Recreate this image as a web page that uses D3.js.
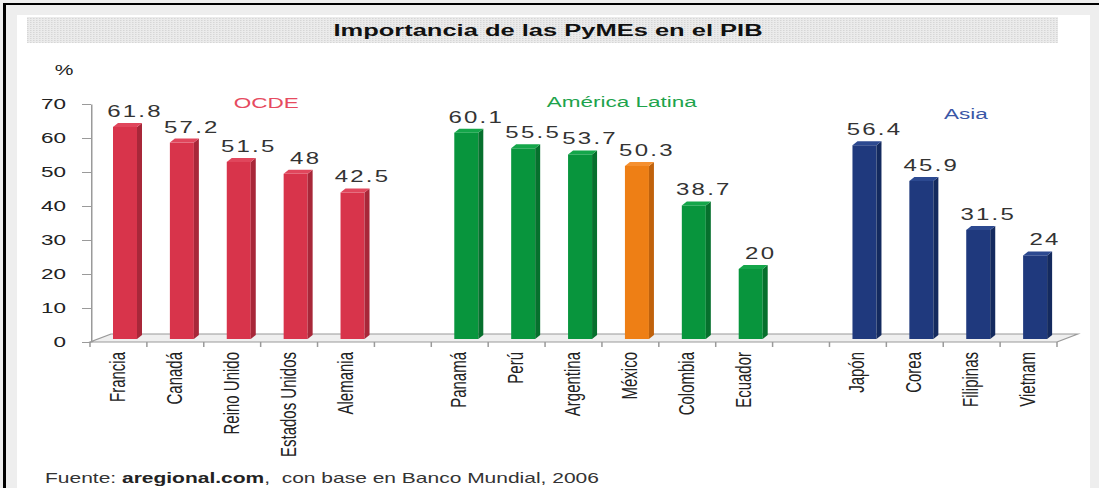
<!DOCTYPE html>
<html lang="es">
<head>
  <meta charset="UTF-8">
  <title>Importancia de las PyMEs en el PIB</title>
  <script src="https://d3js.org/d3.v7.min.js"></script>
  <style>
    body {
      margin: 0;
      background: #fff;
      font-family: "Liberation Sans", Arial, sans-serif;
    }
    svg { display: block; }
    .cat { font-size: 15px; fill: #222; }
    .val { font-size: 16px; fill: #333; letter-spacing: 1.5px; }
    .grp { font-size: 15px; }
  </style>
</head>
<body>
  <svg width="1099" height="488"></svg>

  <script>
    // data
    const ocdeCountries  = ["Francia", "Canadá", "Reino Unido", "Estados Unidos", "Alemania"];
    const ocdeValues     = [61.8, 57.2, 51.5, 48, 42.5];
    const latamCountries = ["Panamá", "Perú", "Argentina", "México", "Colombia", "Ecuador"];
    const latamValues    = [60.1, 55.5, 53.7, 50.3, 38.7, 20];
    const asiaCountries  = ["Japón", "Corea", "Filipinas", "Vietnam"];
    const asiaValues     = [56.4, 45.9, 31.5, 24];
    const groupNames     = ["OCDE", "América Latina", "Asia"];
    const highlighted    = ["México"];
    const yTicks         = [0, 10, 20, 30, 40, 50, 60, 70];

    const groupColors = {
      "OCDE":           {front: "#d8344b", side: "#a82739", top: "#e0465c", label: "#e64a60"},
      "América Latina": {front: "#08953d", side: "#06702d", top: "#14a64a", label: "#1ea34c"},
      "Asia":           {front: "#1f397d", side: "#142a5e", top: "#2c4990", label: "#3a57a6"}
    };
    const highlightColor = {front: "#ee7f15", side: "#c0620c", top: "#f59030"};

    // the original picture is stretched sideways, so everything is drawn
    // in a narrower space and scaled by SX
    const SX = 1.5;
    const px = v => v / SX;

    const groups = [
      {name: groupNames[0], countries: ocdeCountries,  values: ocdeValues,  labelAt: 3.1,  labelY: 108},
      {name: groupNames[1], countries: latamCountries, values: latamValues, labelAt: 9.35, labelY: 107},
      {name: groupNames[2], countries: asiaCountries,  values: asiaValues,  labelAt: 15.4, labelY: 119}
    ];

    const rows = [];
    const slots = [];
    groups.forEach((g, gi) => {
      if (gi > 0) slots.push("_gap" + gi);
      g.countries.forEach((c, i) => {
        slots.push(c);
        rows.push({country: c, value: g.values[i], group: g.name});
      });
    });

    const svg = d3.select("svg");

    // frame
    svg.append("rect").attr("x", 0).attr("y", 0).attr("width", 1099).attr("height", 488).attr("fill", "#eeeeee");
    svg.append("rect").attr("x", 17).attr("y", 15).attr("width", 1073).attr("height", 473).attr("fill", "#fff");
    svg.append("rect").attr("x", 3).attr("y", 3).attr("width", 1096).attr("height", 2).attr("fill", "#000");
    svg.append("rect").attr("x", 3).attr("y", 3).attr("width", 3).attr("height", 485).attr("fill", "#000");

    const defs = svg.append("defs");
    const pat = defs.append("pattern").attr("id", "dots")
      .attr("width", 2).attr("height", 2).attr("patternUnits", "userSpaceOnUse");
    pat.append("rect").attr("width", 2).attr("height", 2).attr("fill", "#ebebeb");
    pat.append("rect").attr("width", 1).attr("height", 1).attr("fill", "#d6d6d6");

    const g = svg.append("g").attr("transform", `scale(${SX},1)`);

    // title bar
    g.append("rect")
      .attr("x", px(27)).attr("y", 17)
      .attr("width", px(1031)).attr("height", 26)
      .attr("fill", "url(#dots)");
    g.append("text")
      .attr("x", px(548)).attr("y", 36)
      .attr("text-anchor", "middle")
      .attr("font-size", 17).attr("font-weight", "bold").attr("fill", "#111")
      .text("Importancia de las PyMEs en el PIB");

    const x = d3.scaleBand().domain(slots).range([px(90), px(1057)]);
    const y = d3.scaleLinear().domain([0, 70]).range([342, 104]);

    // floor
    const depthX = px(21), depthY = 8;
    const x0 = x.range()[0], x1 = x.range()[1];
    g.append("path")
      .attr("d", `M${x0},${y(0)}L${x0 + depthX},${y(0) - depthY}L${x1 + depthX},${y(0) - depthY}L${x1},${y(0)}Z`)
      .attr("fill", "#efefef").attr("stroke", "#9a9a9a").attr("stroke-width", 1);

    // slot ticks under the floor
    const bounds = slots.map(s => x(s)).concat([x1]);
    g.selectAll("line.xt").data(bounds).join("line")
      .attr("class", "xt")
      .attr("x1", d => d).attr("x2", d => d)
      .attr("y1", y(0)).attr("y2", y(0) + 5)
      .attr("stroke", "#9a9a9a");

    // y axis
    const yAxis = g.append("g")
      .attr("transform", `translate(${px(91)},0)`)
      .call(d3.axisLeft(y).tickValues(yTicks).tickSize(px(9)).tickSizeOuter(0).tickPadding(px(16)));
    yAxis.select(".domain").attr("stroke", "#9a9a9a");
    yAxis.selectAll(".tick line").attr("stroke", "#9a9a9a");
    yAxis.selectAll(".tick text")
      .attr("font-family", "Liberation Sans, Arial, sans-serif")
      .attr("font-size", 15).attr("fill", "#222");

    g.append("text")
      .attr("x", px(64)).attr("y", 75)
      .attr("text-anchor", "middle")
      .attr("font-size", 14).attr("fill", "#222")
      .text("%");

    // bars
    const faceW = px(24), sideW = px(5), topDy = 4;
    const colorsOf = d => highlighted.includes(d.country) ? highlightColor : groupColors[d.group];

    const bar = g.selectAll("g.bar").data(rows).join("g").attr("class", "bar");
    bar.each(function(d) {
      const b = d3.select(this);
      const left = x(d.country) + px(23);
      const top = y(d.value) - 5;
      const bottom = y(0) - 3;
      const c = colorsOf(d);
      b.append("rect")
        .attr("x", left).attr("y", top)
        .attr("width", faceW).attr("height", bottom - top)
        .attr("fill", c.front);
      b.append("path")
        .attr("d", `M${left + faceW},${top}L${left + faceW + sideW},${top - topDy}L${left + faceW + sideW},${bottom - topDy}L${left + faceW},${bottom}Z`)
        .attr("fill", c.side);
      b.append("path")
        .attr("d", `M${left},${top}L${left + sideW},${top - topDy}L${left + faceW + sideW},${top - topDy}L${left + faceW},${top}Z`)
        .attr("fill", c.top);
      b.append("text")
        .attr("class", "val")
        .attr("x", left + faceW / 2 + px(10))
        .attr("y", top - 10)
        .attr("text-anchor", "middle")
        .text(d.value);
    });

    // category labels
    g.selectAll("text.cat").data(rows).join("text")
      .attr("class", "cat")
      .attr("transform", d => `translate(${x(d.country) + px(23) + faceW / 2},352) rotate(-90)`)
      .attr("text-anchor", "end")
      .text(d => d.country);

    // group labels
    g.selectAll("text.grp").data(groups).join("text")
      .attr("class", "grp")
      .attr("x", d => x0 + d.labelAt * x.step())
      .attr("y", d => d.labelY)
      .attr("text-anchor", "middle")
      .attr("fill", d => groupColors[d.name].label)
      .text(d => d.name);

    // source
    const src = g.append("text")
      .attr("x", px(45)).attr("y", 483)
      .attr("font-size", 14).attr("fill", "#333");
    src.append("tspan").text("Fuente: ");
    src.append("tspan").attr("font-weight", "bold").attr("fill", "#222").text("aregional.com");
    src.append("tspan").attr("xml:space", "preserve").text(",  con base en Banco Mundial, 2006");
  </script>
</body>
</html>
